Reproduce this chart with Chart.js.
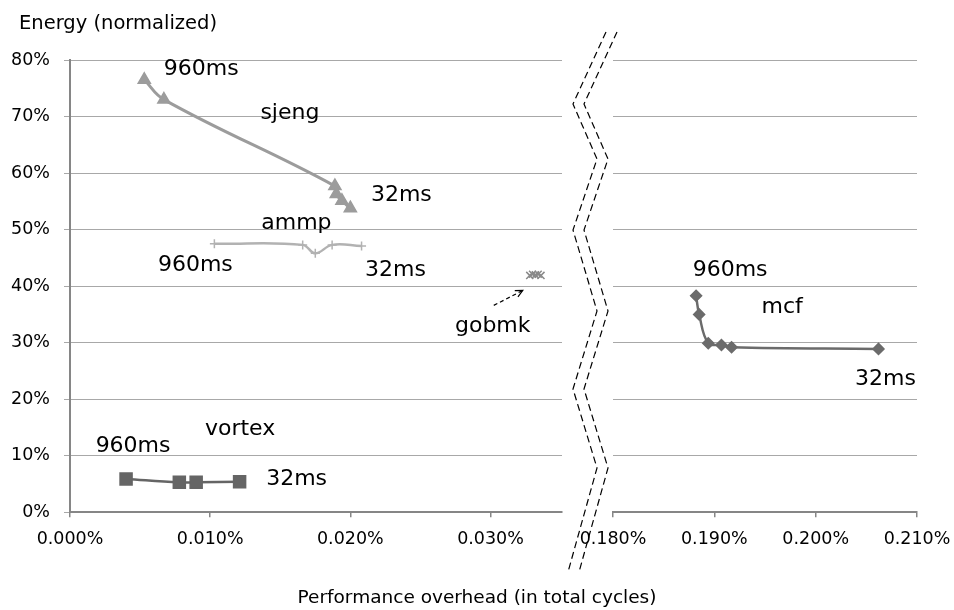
<!DOCTYPE html>
<html>
<head>
<meta charset="utf-8">
<script src="https://cdn.jsdelivr.net/npm/chart.js@4.4.1/dist/chart.umd.min.js"></script>
<style>
  html, body { margin: 0; padding: 0; background: #fff; }
  #wrap { position: relative; width: 954px; height: 610px; }
  #wrap canvas { position: absolute; left: 0; top: 0; }
</style>
</head>
<body>
<div id="wrap">
  <canvas id="chart-left" width="954" height="610"></canvas>
  <canvas id="chart-right" width="954" height="610"></canvas>
</div>
<script>
/* Energy vs. performance overhead, broken x axis (two panels) */

// tick labels
const leftTicks   = [0, 0.01, 0.02, 0.03];
const rightTicks  = [0.18, 0.19, 0.20, 0.21];
const energyTicks = [0, 10, 20, 30, 40, 50, 60, 70, 80];

// series (overhead in %, energy in %)
const sjengOverhead  = [0.0053, 0.0067, 0.0189, 0.0190, 0.0194, 0.0200];
const sjengEnergy    = [76.5, 73.0, 57.7, 56.3, 55.1, 53.8];
const ammpOverhead   = [0.0103, 0.0166, 0.0175, 0.0187, 0.0208];
const ammpEnergy     = [47.5, 47.3, 45.8, 47.3, 47.1];
const gobmkOverhead  = [0.0328, 0.0330, 0.0332, 0.0334, 0.0336];
const gobmkEnergy    = [41.9, 42.1, 42.0, 42.1, 41.9];
const vortexOverhead = [0.0040, 0.0078, 0.0090, 0.0121];
const vortexEnergy   = [5.9, 5.3, 5.3, 5.4];
const mcfOverhead    = [0.1882, 0.1885, 0.1894, 0.1907, 0.1917, 0.2062];
const mcfEnergy      = [38.3, 35.0, 29.9, 29.6, 29.2, 28.9];

const FONT = '"DejaVu Sans", Verdana, sans-serif';
const AXIS_GREY = '#868686';
const GRID_GREY = '#a8a8a8';

const pairs = (xs, ys) => xs.map((x, i) => ({ x, y: ys[i] }));
const pct3  = v => v.toFixed(3) + '%';

function series(label, xs, ys, color, style, radius, width) {
  return {
    label,
    data:             pairs(xs, ys),
    showLine:         true,
    borderColor:      color,
    backgroundColor:  color,
    borderWidth:      width,
    pointStyle:       style,
    pointRadius:      radius,
    pointBorderWidth: 1.5,
    tension:          0.4,
  };
}

// text next to the curves, offset from one point of a series
const notesPlugin = {
  id: 'notes',
  afterDatasetsDraw(chart, args, opts) {
    const ctx = chart.ctx;
    ctx.save();
    ctx.fillStyle = '#000';
    ctx.font = '22px ' + FONT;
    ctx.textAlign = 'center';
    ctx.textBaseline = 'middle';
    (opts.items || []).forEach(n => {
      const pt = chart.getDatasetMeta(n.ds).data[n.i];
      ctx.fillText(n.text, pt.x + n.dx, pt.y + n.dy);
    });
    (opts.arrows || []).forEach(a => {
      const pt = chart.getDatasetMeta(a.ds).data[a.i];
      const x0 = pt.x + a.from[0], y0 = pt.y + a.from[1];
      const x1 = pt.x + a.to[0],   y1 = pt.y + a.to[1];
      ctx.strokeStyle = '#000';
      ctx.lineWidth = 1.2;
      ctx.setLineDash([4, 3]);
      ctx.beginPath(); ctx.moveTo(x0, y0); ctx.lineTo(x1, y1); ctx.stroke();
      ctx.setLineDash([]);
      const ang = Math.atan2(y1 - y0, x1 - x0);
      ctx.beginPath();
      ctx.moveTo(x1 - 8 * Math.cos(ang - 0.45), y1 - 8 * Math.sin(ang - 0.45));
      ctx.lineTo(x1, y1);
      ctx.lineTo(x1 - 8 * Math.cos(ang + 0.45), y1 - 8 * Math.sin(ang + 0.45));
      ctx.stroke();
    });
    (opts.texts || []).forEach(t => {
      ctx.font = t.font;
      ctx.textAlign = t.align;
      ctx.textBaseline = 'alphabetic';
      ctx.fillText(t.text, t.x, t.y);
    });
    ctx.restore();
  }
};

// the dashed zigzag marking the axis break
const breakPlugin = {
  id: 'axisBreak',
  afterDraw(chart, args, opts) {
    const ctx = chart.ctx;
    ctx.save();
    ctx.strokeStyle = '#000';
    ctx.lineWidth = 1.2;
    ctx.setLineDash([7, 4]);
    [0, 11].forEach(off => {
      ctx.beginPath();
      opts.path.forEach(([x, y], i) => {
        if (i === 0) ctx.moveTo(x + off, y); else ctx.lineTo(x + off, y);
      });
      ctx.stroke();
    });
    ctx.restore();
  }
};

function xScale(min, max, ticks) {
  return {
    type: 'linear',
    min, max,
    afterBuildTicks: s => { s.ticks = ticks.map(value => ({ value })); },
    afterFit: s => { s.height = 97.7; s.paddingLeft = 0; s.paddingRight = 0; },
    grid:   { drawOnChartArea: false, tickLength: 5, color: AXIS_GREY, lineWidth: 1.5 },
    border: { color: AXIS_GREY, width: 2 },
    ticks:  { color: '#000', padding: 12, maxRotation: 0, font: { family: FONT, size: 17.5 }, callback: pct3 }
  };
}

function yScale(showLabels) {
  return {
    min: 0, max: 80,
    afterBuildTicks: s => { s.ticks = energyTicks.map(value => ({ value })); },
    afterFit: s => { s.width = showLabels ? 70 : 0; },
    grid:   { color: GRID_GREY, lineWidth: 1, tickLength: 6, drawTicks: showLabels },
    border: { display: showLabels, color: AXIS_GREY, width: 2 },
    ticks:  { display: showLabels, color: '#000', padding: 14, font: { family: FONT, size: 17.5 }, callback: v => v + '%' }
  };
}

const base = {
  responsive: false,
  animation: false,
  devicePixelRatio: 1,
  plugins: { legend: { display: false }, tooltip: { enabled: false } },
};

new Chart(document.getElementById('chart-left'), {
  type: 'scatter',
  data: {
    datasets: [
      series('sjeng',  sjengOverhead,  sjengEnergy,  '#9c9c9c', 'triangle', 7,   3),
      series('ammp',   ammpOverhead,   ammpEnergy,   '#b2b2b2', 'cross',    4.5, 2.5),
      series('gobmk',  gobmkOverhead,  gobmkEnergy,  '#8a8a8a', 'crossRot', 5,   1.5),
      series('vortex', vortexOverhead, vortexEnergy, '#656565', 'rect',     8.5, 2.5),
    ]
  },
  options: {
    ...base,
    layout: { padding: { top: 60, left: 0, right: 392, bottom: 0 } },
    scales: { x: xScale(0, 0.0351, leftTicks), y: yScale(true) },
    plugins: {
      ...base.plugins,
      notes: {
        items: [
          { text: '960ms',  ds: 0, i: 0, dx: 57,   dy: -11 },
          { text: 'sjeng',  ds: 0, i: 1, dx: 126,  dy: 14 },
          { text: '32ms',   ds: 0, i: 5, dx: 51,   dy: -13 },
          { text: 'ammp',   ds: 1, i: 0, dx: 82,   dy: -20 },
          { text: '960ms',  ds: 1, i: 0, dx: -19,  dy: 22 },
          { text: '32ms',   ds: 1, i: 4, dx: 34,   dy: 24 },
          { text: 'gobmk',  ds: 2, i: 0, dx: -37,  dy: 51 },
          { text: 'vortex', ds: 3, i: 0, dx: 114,  dy: -50 },
          { text: '960ms',  ds: 3, i: 0, dx: 7,    dy: -33 },
          { text: '32ms',   ds: 3, i: 3, dx: 57,   dy: -2 },
        ],
        arrows: [ { ds: 2, i: 0, from: [-36, 30], to: [-7, 15] } ],
        texts: [
          { text: 'Energy (normalized)', x: 19, y: 28.5, align: 'left', font: '19.5px ' + FONT },
          { text: 'Performance overhead (in total cycles)', x: 477, y: 603, align: 'center', font: '18.5px ' + FONT },
        ]
      }
    }
  },
  plugins: [notesPlugin]
});

new Chart(document.getElementById('chart-right'), {
  type: 'scatter',
  data: {
    datasets: [
      series('mcf', mcfOverhead, mcfEnergy, '#6b6b6b', 'rectRot', 5.5, 2.5),
    ]
  },
  options: {
    ...base,
    layout: { padding: { top: 60, left: 613, right: 37, bottom: 0 } },
    scales: { x: xScale(0.18, 0.21, rightTicks), y: yScale(false) },
    plugins: {
      ...base.plugins,
      notes: {
        items: [
          { text: '960ms', ds: 0, i: 0, dx: 34, dy: -25 },
          { text: 'mcf',   ds: 0, i: 0, dx: 86, dy: 12 },
          { text: '32ms',  ds: 0, i: 5, dx: 7,  dy: 30 },
        ]
      },
      axisBreak: {
        path: [[606, 32], [573, 104], [597, 159], [573, 230], [597, 311],
               [573, 389], [597, 468], [568, 572]]
      }
    }
  },
  plugins: [notesPlugin, breakPlugin]
});
</script>
</body>
</html>
